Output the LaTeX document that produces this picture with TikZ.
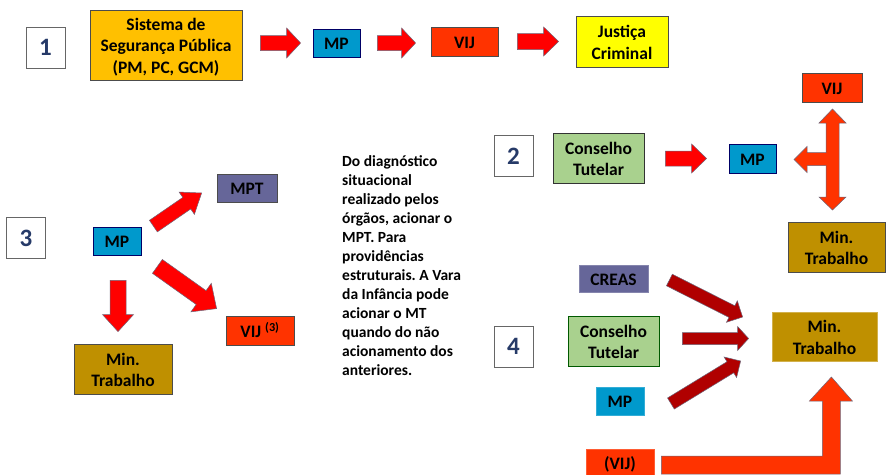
\documentclass[tikz,border=0pt]{standalone}
\usepackage{fontspec}
\setmainfont{Carlito}
\usetikzlibrary{calc}
\frenchspacing
\definecolor{numblue}{RGB}{38,58,104}
\definecolor{sspyellow}{RGB}{255,192,0}
\definecolor{mpblue}{RGB}{0,153,204}
\definecolor{vijred}{RGB}{255,51,0}
\definecolor{jcyellow}{RGB}{255,255,0}
\definecolor{ctgreen}{RGB}{169,209,142}
\definecolor{mptpurple}{RGB}{102,102,153}
\definecolor{mtgold}{RGB}{191,144,0}
\definecolor{arrowred}{RGB}{255,0,0}
\definecolor{arrowdark}{RGB}{176,0,0}
\definecolor{arrowline}{RGB}{110,100,120}
\newcommand{\boxlines}[1]{\raisebox{0pt}[\dimexpr\height+5pt\relax][\depth]{\begin{tabular}{@{}c@{}}#1\end{tabular}}}
\newcommand{\blockarrow}[6][]{%
  \coordinate (ba-s) at #2;
  \coordinate (ba-e) at #3;
  \coordinate (ba-h) at ($(ba-e)!#6pt!(ba-s)$);
  \draw[#1] ($(ba-s)!#4pt!90:(ba-e)$) -- ($(ba-h)!#4pt!90:(ba-e)$) -- ($(ba-h)!#5pt!90:(ba-e)$)
    -- (ba-e) -- ($(ba-h)!#5pt!-90:(ba-e)$) -- ($(ba-h)!#4pt!-90:(ba-e)$) -- ($(ba-s)!#4pt!-90:(ba-e)$) -- cycle;
}
\begin{document}
\begin{tikzpicture}[x=1pt,y=-1pt,
  box/.style={draw=black!70,line width=0.8pt,inner sep=0pt,font=\bfseries\fontsize{17.5}{21.5}\selectfont},
  numbox/.style={draw=black!60,line width=0.8pt,fill=white,minimum width=39,minimum height=41,text=numblue,font=\bfseries\fontsize{25}{25}\selectfont},
  redarrow/.style={fill=arrowred,draw=arrowline,line width=0.5pt},
  darkarrow/.style={fill=arrowdark,draw=arrowline,line width=0.5pt},
  orangearrow/.style={fill=vijred,draw=arrowline,line width=0.5pt}]
\useasboundingbox[fill=white] (0,0) rectangle (886,474);
\node[numbox] (num1) at (45.5,47.5) {1};
\node[numbox] (num2) at (513.5,156) {2};
\node[numbox] (num3) at (26,238) {3};
\node[numbox] (num4) at (513.5,346.5) {4};
\node[box,fill=sspyellow,minimum width=152,minimum height=70] (ssp) at (166,45) {\boxlines{Sistema de\\Segurança Pública\\(PM, PC, GCM)}};
\node[box,fill=mpblue,draw=black!60!blue,minimum width=47,minimum height=28] (mp1) at (336.5,43) {\boxlines{MP}};
\node[box,fill=vijred,minimum width=67,minimum height=29] (vij1) at (464.5,41.5) {\boxlines{VIJ}};
\node[box,fill=jcyellow,minimum width=92,minimum height=51] (jc) at (622,41.5) {\boxlines{Justiça\\Criminal}};
\node[box,fill=vijred,minimum width=60,minimum height=29] (vij2) at (832,87.5) {\boxlines{VIJ}};
\node[box,fill=ctgreen,draw=black!80,minimum width=91,minimum height=50] (ct2) at (598.5,158) {\boxlines{Conselho\\Tutelar}};
\node[box,fill=mpblue,draw=black!60!blue,minimum width=47,minimum height=29] (mp2) at (752.5,158.5) {\boxlines{MP}};
\node[box,fill=mtgold,minimum width=97,minimum height=50] (mt2) at (836.5,247) {\boxlines{Min.\\Trabalho}};
\node[box,fill=mpblue,draw=black!60!blue,minimum width=48,minimum height=28] (mp3) at (117,241) {\boxlines{MP}};
\node[box,fill=mptpurple,minimum width=60,minimum height=28] (mpt) at (247,188) {\boxlines{MPT}};
\node[box,fill=vijred,minimum width=68,minimum height=29] (vij3) at (260,330.5) {\boxlines{VIJ \textsuperscript{(3)}}};
\node[box,fill=mtgold,minimum width=98,minimum height=50] (mt3) at (123,369) {\boxlines{Min.\\Trabalho}};
\node[box,fill=mptpurple,draw=mptpurple!80,minimum width=69,minimum height=27] (creas) at (613.5,278.5) {\boxlines{CREAS}};
\node[box,fill=ctgreen,draw=green!35!black,minimum width=91,minimum height=50] (ct4) at (613.5,341) {\boxlines{Conselho\\Tutelar}};
\node[box,fill=mpblue,draw=mpblue!80,minimum width=48,minimum height=28] (mp4) at (620,401) {\boxlines{MP}};
\node[box,fill=mtgold,draw=mtgold!70,minimum width=105,minimum height=49] (mt4) at (824.5,336.5) {\boxlines{Min.\\Trabalho}};
\node[box,fill=vijred,draw=vijred!80,minimum width=68,minimum height=30] (vij4) at (620,464) {(VIJ)};
\node[anchor=north west,inner sep=0pt,align=left,font=\bfseries\fontsize{15.5}{19}\selectfont] (desc) at (342,155)
  {Do diagnóstico\\situacional\\realizado pelos\\órgãos, acionar o\\MPT. Para\\providências\\estruturais. A Vara\\da Infância pode\\acionar o MT\\quando do não\\acionamento dos\\anteriores.};
\blockarrow[redarrow]{($(ssp.east)+(18,-2)$)}{($(mp1.west)+(-12,0)$)}{7.5}{15}{14}
\blockarrow[redarrow]{($(mp1.east)+(17,0)$)}{($(vij1.west |- mp1.east)+(-15,0)$)}{7.5}{15}{14}
\blockarrow[redarrow]{($(vij1.east)+(19,0)$)}{($(jc.west |- vij1.east)+(-17,0)$)}{8}{14.5}{15}
\blockarrow[redarrow]{($(ct2.east)+(21,0.5)$)}{($(mp2.west)+(-22,0)$)}{7.5}{14.5}{15}
\blockarrow[redarrow]{($(mp3.north east)+(12,-0.5)$)}{($(mpt.west)+(-15,5)$)}{7}{13.5}{18}
\blockarrow[redarrow]{($(mp3.south east)+(16,11)$)}{($(vij3.north west)+(-9,-7)$)}{8.5}{17.5}{19}
\blockarrow[redarrow]{($(mp3.south)+(1,25)$)}{($(mt3.north)+(-5,-12)$)}{8}{15.5}{17}
\blockarrow[darkarrow]{($(creas.east)+(21,1.5)$)}{($(mt4.west)+(-29,-19.5)$)}{6.5}{12}{12}
\blockarrow[darkarrow]{($(ct4.east)+(23,-2.5)$)}{($(mt4.west)+(-23,2)$)}{6}{12}{11}
\blockarrow[darkarrow]{($(mp4.east)+(26.5,2.5)$)}{($(mt4.west)+(-31,24.5)$)}{6.5}{12}{12}
\coordinate (tjoin) at (vij2.south |- mp2.east);
\draw[orangearrow,shift={(tjoin)}] (0.5,-49.5) -- (14,-35.5) -- (7,-35.5) -- (7,38.5) -- (14,38.5) -- (0.5,51.5)
  -- (-13,38.5) -- (-6,38.5) -- (-6,7) -- (-25,7) -- (-25,14) -- (-38,1) -- (-25,-12) -- (-25,-6)
  -- (-6,-6) -- (-6,-35.5) -- (-13,-35.5) -- cycle;
\coordinate (lcorner) at ($(vij4.east)+(177,1)$);
\draw[orangearrow,shift={(lcorner)}] (-170,-9) -- (-9,-9) -- (-9,-64) -- (-22,-64) -- (0,-88) -- (21,-64)
  -- (9,-64) -- (9,9) -- (-170,9) -- cycle;
\end{tikzpicture}
\end{document}
